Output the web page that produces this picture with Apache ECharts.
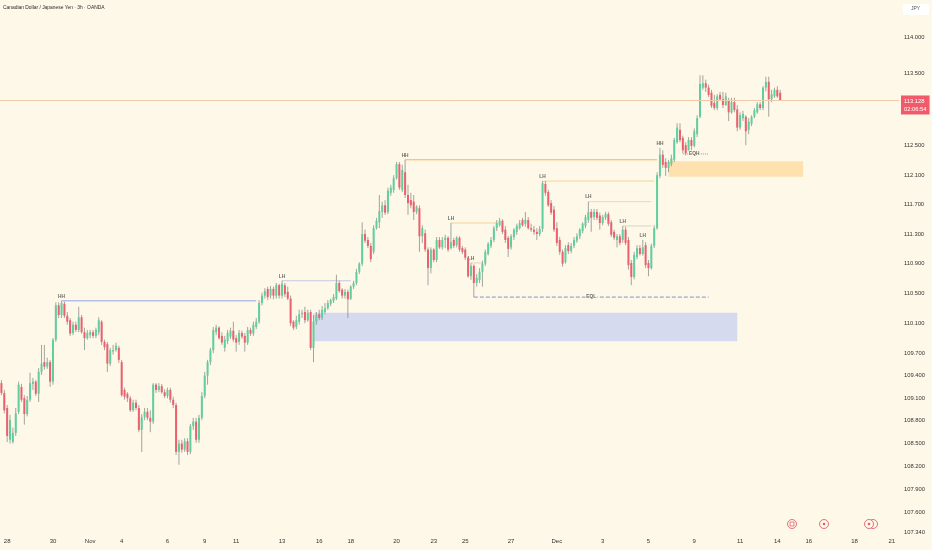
<!DOCTYPE html>
<html>
<head>
<meta charset="utf-8">
<script src="https://cdn.jsdelivr.net/npm/echarts@6.0.0/dist/echarts.min.js"></script>
<style>
html,body{margin:0;padding:0;background:#fef8e8;}
#chart{width:932px;height:550px;}
</style>
</head>
<body>
<div id="chart"></div>
<script>
// ---- trading sessions (day, number of 3h bars shown) ----
const sessions = [['Oct 27',2],['Oct 28',8],['Oct 29',8],['Oct 30',8],['Oct 31',5],['Nov 2',3],['Nov 3',8],['Nov 4',8],['Nov 5',8],['Nov 6',8],['Nov 7',5],['Nov 9',3],['Nov 10',8],['Nov 11',8],['Nov 12',8],['Nov 13',8],['Nov 14',5],['Nov 16',3],['Nov 17',8],['Nov 18',8],['Nov 19',8],['Nov 20',8],['Nov 21',5],['Nov 23',3],['Nov 24',8],['Nov 25',8],['Nov 26',8],['Nov 27',8],['Nov 28',5],['Nov 30',3],['Dec 1',8],['Dec 2',8],['Dec 3',8],['Dec 4',8],['Dec 5',5],['Dec 7',3],['Dec 8',8],['Dec 9',8],['Dec 10',8],['Dec 11',8],['Dec 12',5],['Dec 14',3],['Dec 15',8],['Dec 16',8],['Dec 17',8],['Dec 18',8],['Dec 19',5],['Dec 21',3]];

// ---- time-axis tick labels ----
const tickDays  = ['Oct 28','Oct 30','Nov 2','Nov 4','Nov 6','Nov 9','Nov 11','Nov 13','Nov 16','Nov 18','Nov 20','Nov 23','Nov 25','Nov 27','Dec 1','Dec 3','Dec 5','Dec 9','Dec 11','Dec 14','Dec 16','Dec 18','Dec 21'];
const tickTexts = ['28','30','Nov','4','6','9','11','13','16','18','20','23','25','27','Dec','3','5','9','11','14','16','18','21'];

// ---- price-axis tick labels ----
const priceTicks = [114.0,113.5,112.5,112.1,111.7,111.3,110.9,110.5,110.1,109.7,109.4,109.1,108.8,108.5,108.2,107.9,107.6,107.34];

// ---- candles [open, close, low, high] ----
const ohlc = [
[109.30,109.17,109.14,109.34],[109.17,108.94,108.90,109.21],[108.97,108.60,108.52,109.01],[108.55,108.81,108.50,108.88],
[108.52,108.64,108.50,108.71],[108.64,108.90,108.60,108.97],[108.92,109.28,108.89,109.32],[109.25,109.08,109.05,109.29],
[109.10,108.89,108.75,109.14],[108.89,109.08,108.86,109.13],[109.08,109.30,109.05,109.44],[109.29,109.32,109.21,109.37],
[109.32,109.16,109.13,109.34],[109.16,109.45,109.05,109.50],[109.45,109.56,109.41,109.81],[109.58,109.52,109.48,109.81],
[109.52,109.58,109.49,109.64],[109.58,109.32,109.25,109.61],[109.32,109.88,109.28,109.90],[109.88,110.34,109.85,110.38],
[110.34,110.21,110.17,110.38],[110.21,110.37,110.17,110.40],[110.36,110.20,110.17,110.39],[110.20,110.12,110.08,110.25],
[110.14,109.96,109.93,110.17],[109.97,110.08,109.94,110.12],[110.08,110.01,109.98,110.12],[110.01,110.18,109.98,110.32],
[110.18,109.98,109.96,110.21],[109.98,109.90,109.74,110.04],[109.90,109.97,109.88,110.01],[109.94,109.98,109.90,110.01],
[109.98,109.93,109.90,110.01],[109.93,110.01,109.90,110.04],[109.98,110.14,109.94,110.18],[110.12,109.85,109.81,110.14],
[109.85,109.78,109.74,109.88],[109.82,109.56,109.45,109.85],[109.56,109.74,109.53,109.77],[109.72,109.74,109.68,109.81],
[109.74,109.80,109.72,109.84],[109.77,109.61,109.57,109.80],[109.58,109.14,109.12,109.61],[109.21,109.12,109.08,109.24],
[109.16,109.10,109.05,109.18],[109.10,108.94,108.92,109.13],[108.94,109.04,108.92,109.08],[109.04,108.97,108.94,109.08],
[108.97,108.68,108.65,109.01],[108.68,108.85,108.39,108.89],[108.85,108.92,108.81,108.97],[108.92,108.84,108.81,108.97],
[108.84,108.79,108.65,108.94],[108.79,109.28,108.76,109.30],[109.28,109.21,109.17,109.30],[109.21,109.26,109.18,109.30],
[109.26,109.18,109.16,109.29],[109.18,109.13,109.10,109.22],[109.13,109.21,109.10,109.24],[109.21,109.08,109.04,109.24],
[109.08,109.01,108.97,109.12],[109.01,108.39,108.35,109.04],[108.39,108.50,108.22,108.55],[108.50,108.42,108.38,108.55],
[108.42,108.53,108.39,108.57],[108.53,108.39,108.35,108.57],[108.39,108.73,108.36,108.76],[108.73,108.79,108.68,108.84],
[108.79,108.55,108.51,108.84],[108.55,108.84,108.51,108.88],[108.84,109.13,108.81,109.18],[109.13,109.40,109.10,109.45],
[109.40,109.58,109.28,109.61],[109.58,109.74,109.54,109.77],[109.74,110.01,109.70,110.05],[109.98,110.04,109.94,110.08],
[110.04,109.90,109.88,110.06],[109.93,109.84,109.81,109.98],[109.77,109.88,109.72,109.93],[109.86,109.97,109.82,110.01],
[109.92,110.00,109.89,110.04],[110.00,109.88,109.85,110.12],[109.90,109.84,109.72,109.94],[109.85,109.97,109.81,110.01],
[109.97,109.92,109.89,110.00],[109.93,109.84,109.72,109.97],[109.84,110.01,109.81,110.05],[110.01,109.96,109.93,110.04],
[109.96,110.08,109.93,110.12],[110.05,110.12,110.02,110.17],[110.12,110.37,110.09,110.41],[110.37,110.47,110.34,110.51],
[110.47,110.53,110.43,110.57],[110.56,110.45,110.41,110.59],[110.47,110.56,110.43,110.60],[110.56,110.47,110.42,110.59],
[110.47,110.61,110.43,110.64],[110.61,110.47,110.43,110.63],[110.47,110.63,110.43,110.67],[110.61,110.49,110.45,110.64],
[110.52,110.43,110.41,110.59],[110.43,110.10,110.06,110.47],[110.12,110.04,110.01,110.14],[110.05,110.14,110.02,110.20],
[110.12,110.22,110.08,110.28],[110.22,110.24,110.17,110.28],[110.25,110.14,110.10,110.32],[110.14,110.24,110.12,110.28],
[110.25,109.77,109.74,110.28],[109.77,110.12,109.58,110.21],[110.12,110.21,110.08,110.25],[110.22,110.17,110.14,110.28],
[110.17,110.28,110.14,110.33],[110.25,110.30,110.22,110.37],[110.30,110.37,110.28,110.41],[110.36,110.41,110.33,110.43],
[110.40,110.45,110.37,110.49],[110.43,110.64,110.41,110.75],[110.64,110.53,110.51,110.67],[110.55,110.47,110.43,110.57],
[110.47,110.52,110.43,110.56],[110.52,110.42,110.17,110.55],[110.43,110.59,110.41,110.61],[110.59,110.64,110.56,110.67],
[110.64,110.79,110.61,110.83],[110.79,110.90,110.76,110.92],[110.90,111.30,110.87,111.46],[111.30,111.21,111.18,111.36],
[111.22,111.14,111.11,111.26],[111.14,110.96,110.92,111.18],[111.06,111.38,111.03,111.42],[111.38,111.48,111.36,111.52],
[111.46,111.61,111.38,111.83],[111.60,111.69,111.52,111.74],[111.69,111.59,111.56,111.76],[111.60,111.89,111.57,111.93],
[111.86,111.93,111.82,111.97],[111.90,112.06,111.86,112.10],[112.06,112.25,112.04,112.28],[112.25,111.93,111.90,112.28],
[111.90,112.17,111.87,112.24],[112.14,111.83,111.79,112.31],[111.83,111.72,111.56,111.97],[111.76,111.69,111.65,111.86],
[111.74,111.60,111.49,111.83],[111.60,111.67,111.57,111.69],[111.65,111.27,111.06,111.69],[111.27,111.38,111.18,111.42],
[111.31,111.09,111.06,111.36],[111.09,110.84,110.61,111.12],[110.84,111.09,110.77,111.12],[111.09,110.95,110.92,111.11],
[110.95,111.22,110.92,111.26],[111.22,111.12,111.10,111.26],[111.12,111.22,111.09,111.26],[111.22,111.25,111.11,111.29],
[111.25,111.09,111.06,111.27],[111.11,111.19,111.09,111.45],[111.22,111.14,111.11,111.25],[111.15,111.25,111.12,111.27],
[111.25,111.09,111.06,111.27],[111.11,111.06,111.03,111.14],[111.09,110.98,110.95,111.12],[110.98,110.73,110.71,111.00],
[110.73,110.87,110.68,110.91],[110.87,110.64,110.45,110.89],[110.64,110.71,110.59,110.76],[110.68,110.79,110.64,110.84],
[110.79,110.90,110.59,110.94],[110.90,111.06,110.87,111.09],[111.03,111.17,111.01,111.19],[111.14,111.22,111.11,111.26],
[111.22,111.38,111.19,111.41],[111.38,111.45,111.34,111.49],[111.42,111.48,111.40,111.52],[111.48,111.33,111.30,111.50],
[111.36,111.22,111.18,111.41],[111.25,111.10,110.99,111.27],[111.12,111.27,111.09,111.30],[111.26,111.36,111.22,111.38],
[111.33,111.41,111.29,111.44],[111.38,111.45,111.36,111.49],[111.49,111.42,111.40,111.52],[111.44,111.49,111.40,111.60],
[111.49,111.38,111.36,111.53],[111.38,111.36,111.33,111.44],[111.36,111.33,111.29,111.41],[111.33,111.30,111.22,111.38],
[111.30,111.37,111.27,111.41],[111.37,111.99,111.33,112.02],[111.98,111.86,111.82,112.02],[111.87,111.69,111.67,111.90],
[111.72,111.59,111.56,111.76],[111.63,111.36,111.33,111.68],[111.38,111.18,111.14,111.46],[111.22,111.06,111.02,111.26],
[111.06,110.90,110.86,111.09],[110.92,111.11,110.90,111.15],[111.15,111.07,111.03,111.19],[111.07,111.14,111.04,111.18],
[111.14,111.22,111.11,111.26],[111.21,111.27,111.18,111.31],[111.27,111.36,111.23,111.38],[111.34,111.44,111.31,111.46],
[111.41,111.53,111.38,111.56],[111.49,111.60,111.45,111.74],[111.60,111.52,111.33,111.64],[111.53,111.60,111.49,111.64],
[111.60,111.52,111.49,111.64],[111.55,111.45,111.36,111.59],[111.45,111.53,111.42,111.56],[111.52,111.57,111.49,111.60],
[111.57,111.44,111.41,111.60],[111.46,111.29,111.26,111.49],[111.33,111.25,111.22,111.36],[111.22,111.27,111.12,111.30],
[111.27,111.18,111.15,111.30],[111.22,111.36,111.18,111.41],[111.36,111.18,111.15,111.40],[111.22,110.88,110.82,111.26],
[110.91,110.72,110.61,110.95],[110.72,111.02,110.69,111.06],[110.99,111.11,110.96,111.15],[111.11,111.03,111.01,111.15],
[111.03,111.12,111.01,111.22],[111.15,110.88,110.84,111.19],[110.91,110.84,110.73,110.95],[110.84,111.14,110.82,111.17],
[111.14,111.38,111.11,111.42],[111.38,112.10,111.36,112.14],[112.09,112.38,112.06,112.47],[112.38,112.24,112.20,112.44],
[112.28,112.20,112.09,112.33],[112.20,112.28,112.14,112.31],[112.25,112.33,112.22,112.38],[112.31,112.58,112.28,112.61],
[112.55,112.75,112.53,112.81],[112.72,112.58,112.55,112.81],[112.61,112.44,112.40,112.64],[112.51,112.40,112.37,112.55],
[112.44,112.58,112.42,112.62],[112.58,112.50,112.44,112.62],[112.50,112.70,112.48,112.74],[112.66,112.88,112.62,112.92],
[112.90,113.35,112.88,113.47],[113.30,113.36,113.27,113.47],[113.36,113.30,113.24,113.41],[113.30,113.20,113.17,113.34],
[113.23,113.05,113.02,113.27],[113.09,113.02,112.99,113.20],[113.02,113.18,112.99,113.21],[113.20,113.14,113.12,113.24],
[113.14,113.06,113.02,113.24],[113.06,113.18,113.05,113.23],[113.13,112.96,112.84,113.16],[112.96,113.10,112.94,113.16],
[113.10,112.99,112.96,113.16],[113.00,112.75,112.70,113.06],[112.75,112.92,112.72,112.96],[112.88,112.94,112.84,112.98],
[112.90,112.70,112.51,112.92],[112.72,112.83,112.66,112.88],[112.80,112.90,112.77,112.92],[112.90,112.99,112.88,113.02],
[112.96,113.07,112.94,113.10],[113.07,113.02,112.99,113.10],[113.02,113.30,112.99,113.32],[113.30,113.38,113.25,113.45],
[113.38,113.14,112.90,113.45],[113.14,113.21,113.10,113.27],[113.18,113.27,113.16,113.30],[113.27,113.18,113.16,113.32],
[113.23,113.128,113.12,113.27]
];
const lastPrice = 113.128;
const countdown = '02:06:54';

// ---- market-structure swing labels ----
const swingBar   = [21, 98, 141, 157, 164, 189, 205, 217, 224, 230];
const swingPrice = [110.40, 110.67, 112.31, 111.45, 110.91, 112.02, 111.74, 111.41, 111.22, 112.47];
const swingText  = ['HH','LH','HH','LH','LH','LH','LH','LH','LH','HH'];

// ---- structure levels: start bar, end bar, price ----
const levelStart = [21, 98, 141, 157, 164, 189, 205, 217, 165, 238];
const levelEnd   = [89, 122, 229, 173, 168, 228, 227, 227, 247, 247];
const levelPrice = [110.40, 110.67, 112.31, 111.45, 110.91, 112.02, 111.74, 111.41, 110.45, 112.39];
const levelColor = ['#8ea5ea','#c3c8e0','#f2b35a','#f4d29a','#e6d5b5','#f3d59e','#eadcb8','#dbd4c8','#8190cc','#9a9a9a'];
const levelType  = ['solid','solid','solid','solid','solid','solid','solid','solid','dashed','dotted'];

// ---- equal-level tags: bar, price, text ----
const eqBar   = [206, 242];
const eqPrice = [110.45, 112.39];
const eqText  = ['EQL', 'EQH'];

// ---- zones: start bar, end bar, top price, bottom price ----
const zoneStart = [109, 233];
const zoneEnd   = [257, 280];
const zoneTop   = [110.24, 112.29];
const zoneBot   = [109.86, 112.08];
const zoneColor = ['#d5daef', '#fde2b0'];

// ---- build categories ----
const categories = [];
sessions.forEach(([d, n]) => { for (let k = 0; k < n; k++) categories.push(d + ' #' + k); });
const tickMap = {};
tickDays.forEach((d, i) => { tickMap[d + ' #0'] = tickTexts[i]; });

const BG = '#fef8e8';
const FONT = 'Liberation Sans, Arial, sans-serif';

const chart = echarts.init(document.getElementById('chart'), null, {renderer: 'canvas'});

const levelSeries = levelStart.map((s, i) => ({
  type: 'line',
  z: 2,
  silent: true,
  symbol: 'none',
  animation: false,
  lineStyle: {color: levelColor[i], width: 1, type: levelType[i]},
  data: [[s, levelPrice[i]], [levelEnd[i], levelPrice[i]]]
}));

const option = {
  backgroundColor: BG,
  animation: false,
  textStyle: {fontFamily: FONT},
  title: {
    text: 'Canadian Dollar / Japanese Yen · 3h · OANDA',
    left: 3, top: 5, padding: 0,
    textStyle: {fontSize: 4.9, fontWeight: 'normal', color: '#2a2a2a', fontFamily: FONT}
  },
  grid: {left: 0, right: 33, top: 0, bottom: 16},
  xAxis: {
    type: 'category',
    data: categories,
    boundaryGap: true,
    axisLine: {show: false},
    axisTick: {show: false},
    splitLine: {show: false},
    axisLabel: {
      interval: (i, v) => tickMap[v] !== undefined,
      formatter: v => tickMap[v] || '',
      fontSize: 6, color: '#333', margin: 4, fontFamily: FONT
    }
  },
  yAxis: {
    type: 'log',
    logBase: 10,
    position: 'right',
    min: 107.313,
    max: 114.514,
    axisLine: {show: false},
    axisTick: {show: false},
    splitLine: {show: false},
    axisLabel: {
      customValues: priceTicks,
      formatter: v => Number(v).toFixed(3),
      fontSize: 5.8, color: '#333', margin: 5, fontFamily: FONT
    }
  },
  series: [
    {
      type: 'scatter',
      z: 1,
      silent: true,
      symbolSize: 1,
      itemStyle: {color: 'rgba(0,0,0,0)'},
      data: swingBar.map((b, i) => ({name: swingText[i], value: [b, swingPrice[i]]})),
      label: {
        show: true, position: 'top', distance: 1.5, formatter: '{b}',
        fontSize: 4.8, fontWeight: 'bold', color: '#444', fontFamily: FONT
      },
      markArea: {
        silent: true,
        data: zoneStart.map((s, i) => [
          {coord: [s, zoneTop[i]], itemStyle: {color: zoneColor[i]}},
          {coord: [zoneEnd[i], zoneBot[i]]}
        ])
      },
      markLine: {
        silent: true,
        symbol: ['none', 'none'],
        data: [{
          yAxis: lastPrice,
          lineStyle: {color: '#efc9a8', width: 1, type: 'solid'},
          label: {
            show: true, position: 'end', distance: 2, offset: [0, 5],
            formatter: lastPrice.toFixed(3) + '\n' + countdown,
            backgroundColor: '#ef5b6b', color: '#fff', fontSize: 5.8, lineHeight: 8,
            padding: [2, 3, 1, 3], fontFamily: FONT
          }
        }]
      }
    }
  ].concat(levelSeries).concat([
    {
      type: 'scatter',
      z: 4,
      silent: true,
      symbolSize: 1,
      itemStyle: {color: 'rgba(0,0,0,0)'},
      data: eqBar.map((b, i) => ({name: eqText[i], value: [b, eqPrice[i]]})),
      label: {
        show: true, position: 'inside', formatter: '{b}',
        fontSize: 4.8, fontWeight: 'bold', color: '#444', backgroundColor: BG,
        padding: [1, 1], fontFamily: FONT
      }
    },
    {
      type: 'custom',
      z: 3,
      silent: true,
      clip: false,
      encode: {x: 0, y: [1, 2, 3, 4]},
      data: ohlc.map((r, i) => [i, r[0], r[1], r[2], r[3]]),
      renderItem: (params, api) => {
        const i = api.value(0);
        const o = api.value(1), c = api.value(2), l = api.value(3), h = api.value(4);
        const pH = api.coord([i, h]), pL = api.coord([i, l]);
        const pO = api.coord([i, o]), pC = api.coord([i, c]);
        const x = pH[0];
        const up = c >= o;
        const bw = 2;
        const y0 = Math.min(pO[1], pC[1]);
        const hh = Math.max(Math.abs(pO[1] - pC[1]), 1);
        return {
          type: 'group',
          children: [
            {type: 'line', shape: {x1: x, y1: pH[1], x2: x, y2: pL[1]}, style: {stroke: '#8d8d8d', lineWidth: 0.8}},
            {type: 'rect', shape: {x: x - bw / 2, y: y0, width: bw, height: hh}, style: {fill: up ? '#5fcf9f' : '#ec5f6c'}}
          ]
        };
      }
    }
  ]),
  graphic: [
    {type: 'rect', left: 903, top: 4, shape: {width: 26, height: 11, r: 2}, style: {fill: '#ffffff'}},
    {type: 'text', left: 911, top: 6.5, style: {text: 'JPY', fontSize: 5, fill: '#555', fontFamily: FONT}},
    {type: 'circle', shape: {cx: 792, cy: 524, r: 4.5}, style: {fill: 'none', stroke: '#e2606f', lineWidth: 0.9}},
    {type: 'rect', shape: {x: 790, y: 522, width: 4, height: 4}, style: {fill: 'none', stroke: '#e2606f', lineWidth: 0.8}},
    {type: 'circle', shape: {cx: 824, cy: 524, r: 4.5}, style: {fill: 'none', stroke: '#e2606f', lineWidth: 0.9}},
    {type: 'circle', shape: {cx: 824, cy: 524, r: 1.3}, style: {fill: '#e2606f'}},
    {type: 'circle', shape: {cx: 873, cy: 524, r: 4.5}, style: {fill: 'none', stroke: '#e2606f', lineWidth: 0.9}},
    {type: 'circle', shape: {cx: 869, cy: 524, r: 4.5}, style: {fill: BG, stroke: '#e2606f', lineWidth: 0.9}},
    {type: 'circle', shape: {cx: 869, cy: 524, r: 1.3}, style: {fill: '#e2606f'}}
  ]
};
chart.setOption(option);
</script>
</body>
</html>
